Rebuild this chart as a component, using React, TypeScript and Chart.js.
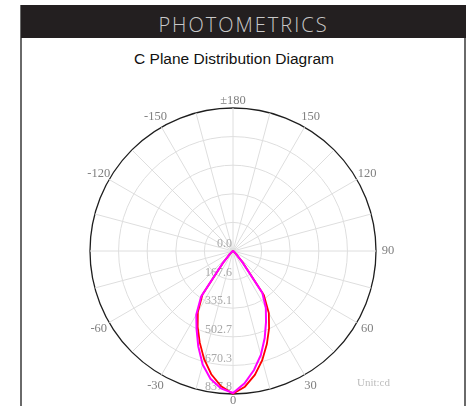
import React, { useEffect, useRef } from 'react';
import { Chart, registerables } from 'chart.js';

Chart.register(...registerables);

// gamma step of the data (degrees); data listed for gamma = 0,5,...,90
const STEP = 5;
const RED_RIGHT = [836, 798, 737, 662, 580, 500, 420, 315, 90, 28, 12, 6, 3, 1, 0, 0, 0, 0, 0];
const RED_LEFT = [836, 796, 733, 655, 570, 490, 412, 312, 90, 28, 12, 6, 3, 1, 0, 0, 0, 0, 0];
const MAG_RIGHT = [826, 778, 708, 631, 543, 458, 385, 300, 85, 26, 11, 5, 2, 1, 0, 0, 0, 0, 0];
const MAG_LEFT = [832, 808, 760, 688, 595, 505, 430, 325, 95, 30, 12, 6, 3, 1, 0, 0, 0, 0, 0];

const RING_VALUES = [0, 167.6, 335.1, 502.7, 670.3, 837.8];
const RING_LABELS = ['0.0', '167.6', '335.1', '502.7', '670.3', '837.8'];

const ANGLE_VALUES = [0, 30, 60, 90, 120, 150, 180, -150, -120, -90, -60, -30];
const ANGLE_LABELS = ['0', '30', '60', '90', '120', '150', '±180', '-150', '-120', '', '-60', '-30'];

const N = 360 / STEP;

function buildSeries(left: number[], right: number[]) {
  const out: number[] = [];
  for (let i = 0; i < N; i++) {
    if (i < left.length) out.push(left[i]);
    else if (N - i < right.length) out.push(right[N - i]);
    else out.push(0);
  }
  return out;
}

function angleToIndex(g: number) {
  if (g === 180) return N / 2;
  return g <= 0 ? -g / STEP : N - g / STEP;
}

const textPlugin = {
  id: 'polarText',
  beforeDatasetsDraw(chart: any) {
    const s = chart.scales.r;
    const ctx = chart.ctx;
    ctx.save();
    ctx.font = '12px "Liberation Serif"';
    ctx.fillStyle = '#a9a9a9';
    ctx.textAlign = 'right';
    ctx.textBaseline = 'middle';
    RING_VALUES.forEach((v, k) => {
      const d = s.getDistanceFromCenterForValue(v);
      ctx.fillText(RING_LABELS[k], s.xCenter - 1, s.yCenter + d - 7);
    });
    ctx.fillStyle = '#7f7f7f';
    ctx.font = '12.5px "Liberation Serif"';
    ctx.textAlign = 'center';
    ANGLE_VALUES.forEach((g, k) => {
      const lab = ANGLE_LABELS[k];
      if (!lab) return;
      const vertical = g === 0 || g === 180;
      const p = s.getPointPosition(angleToIndex(g), s.drawingArea + (vertical ? 7 : 12));
      ctx.fillText(lab, p.x, p.y);
    });
    ctx.fillStyle = '#bdbdbd';
    ctx.font = '11px "Liberation Serif"';
    ctx.textAlign = 'left';
    ctx.fillText('Unit:cd', s.xCenter + s.drawingArea - 19, s.yCenter + 132);
    ctx.restore();
  },
};

export default function App() {
  const ref = useRef<HTMLCanvasElement | null>(null);

  useEffect(() => {
    if (!ref.current) return;
    const labels = Array.from({ length: N }, (_, i) => String(i));
    const chart = new Chart(ref.current, {
      type: 'radar',
      data: {
        labels,
        datasets: [
          {
            label: 'C90-C270',
            data: buildSeries(MAG_LEFT, MAG_RIGHT),
            borderColor: '#ff00ff',
            borderWidth: 2,
            pointRadius: 0,
            fill: false,
            tension: 0,
          },
          {
            label: 'C0-C180',
            data: buildSeries(RED_LEFT, RED_RIGHT),
            borderColor: '#ff0000',
            borderWidth: 1.8,
            pointRadius: 0,
            fill: false,
            tension: 0,
          },
        ],
      },
      options: {
        animation: false,
        responsive: false,
        devicePixelRatio: 1,
        layout: { padding: { left: 90, right: 90, top: 108, bottom: 12 } },
        plugins: { legend: { display: false }, tooltip: { enabled: false } },
        scales: {
          r: {
            min: 0,
            max: RING_VALUES[RING_VALUES.length - 1],
            startAngle: 180,
            afterBuildTicks: (scale: any) => {
              scale.ticks = RING_VALUES.map((v) => ({ value: v }));
            },
            ticks: { display: false },
            pointLabels: { display: false },
            grid: {
              circular: true,
              color: (c: any) => (c.index === RING_VALUES.length - 1 ? '#1e1e1e' : '#dedede'),
              lineWidth: (c: any) => (c.index === RING_VALUES.length - 1 ? 1.3 : 1),
            },
            angleLines: {
              display: true,
              color: '#dedede',
              lineWidth: (c: any) => (c.index % 3 === 0 ? 1 : 0),
            },
          },
        },
      },
      plugins: [textPlugin],
    } as any);
    return () => chart.destroy();
  }, []);

  return (
    <div style={{ position: 'fixed', left: 0, top: 0, width: 466, height: 406, background: '#fff', overflow: 'hidden' }}>
      <div
        style={{
          position: 'absolute',
          left: 20,
          top: 5,
          width: 442,
          height: 420,
          borderLeft: '2px solid #6a6a6a',
          borderRight: '2px solid #6a6a6a',
        }}
      />
      <div
        style={{
          position: 'absolute',
          left: 21,
          top: 5,
          width: 445,
          height: 33,
          background: '#231f20',
          color: '#c8c8c8',
          fontFamily: '"Open Sans", sans-serif',
          fontWeight: 300,
          fontSize: 20,
          letterSpacing: 2,
          lineHeight: '40px',
          textAlign: 'center',
          overflow: 'hidden',
        }}
      >
        PHOTOMETRICS
      </div>
      <div
        style={{
          position: 'absolute',
          left: 0,
          top: 50,
          width: 468,
          textAlign: 'center',
          fontFamily: '"Liberation Sans", Arial, sans-serif',
          fontSize: 15.5,
          lineHeight: '17px',
          color: '#111',
        }}
      >
        C Plane Distribution Diagram
      </div>
      <canvas ref={ref} width={466} height={406} style={{ position: 'absolute', left: 0, top: 0, width: 466, height: 406 }} />
    </div>
  );
}
